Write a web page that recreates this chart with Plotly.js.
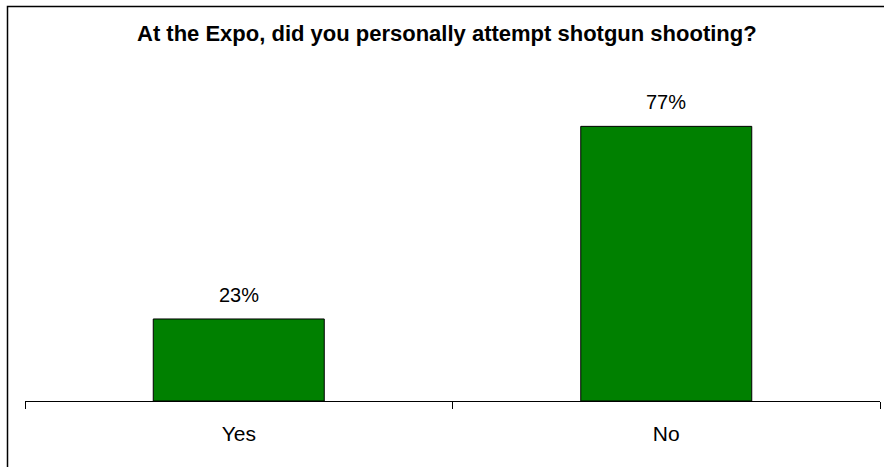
<!DOCTYPE html>
<html>
<head>
<meta charset="utf-8">
<script src="https://cdn.plot.ly/plotly-3.0.1.min.js"></script>
<style>html,body{margin:0;padding:0;background:#fff;} #chart{width:884px;height:467px;}</style>
</head>
<body>
<div id="chart"></div>
<script>
const categories = ["Yes", "No"];
const values = [0.23, 0.77];
const labels = ["23%", "77%"];
const chartTitle = "At the Expo, did you personally attempt shotgun shooting?";

const FONT = "Arial, 'Liberation Sans', sans-serif";
const W = 884, H = 467;
const m = {l: 25, r: 4, t: 80, b: 66};
const pw = W - m.l - m.r, ph = H - m.t - m.b;
const px = x => (x - m.l) / pw;
const py = y => (H - m.b - y) / ph;

const trace = {
  type: "bar",
  x: categories,
  y: values,
  marker: {color: "#008000", line: {color: "#000000", width: 1}},
  hoverinfo: "skip"
};

const annotations = categories.map((c, i) => ({
  x: c, y: values[i], xref: "x", yref: "y",
  text: labels[i], showarrow: false, yanchor: "bottom", yshift: 11,
  font: {family: FONT, size: 20, color: "#000"}
}));
annotations.push({
  xref: "paper", yref: "paper", x: px(447), y: py(34),
  text: "<b>" + chartTitle + "</b>", showarrow: false,
  xanchor: "center", yanchor: "middle",
  font: {family: FONT, size: 22, color: "#000"}
});

const layout = {
  width: W, height: H,
  margin: m,
  paper_bgcolor: "#fff", plot_bgcolor: "#fff",
  showlegend: false,
  bargap: 0.6,
  font: {family: FONT, color: "#000"},
  xaxis: {
    showline: true, linecolor: "#000", linewidth: 1,
    ticks: "outside", tickson: "boundaries", ticklen: 7, tickcolor: "#000", tickwidth: 1,
    ticklabelstandoff: 14,
    tickfont: {family: FONT, size: 21, color: "#000"},
    showgrid: false, zeroline: false, fixedrange: true
  },
  yaxis: {
    range: [0, 0.9], visible: false, showgrid: false, zeroline: false, fixedrange: true
  },
  annotations: annotations,
  shapes: [{
    type: "path", xref: "paper", yref: "paper",
    path: `M ${px(7.5)} ${py(470)} L ${px(7.5)} ${py(6.5)} L ${px(890)} ${py(6.5)}`,
    line: {color: "#000", width: 1.5}
  }]
};

Plotly.newPlot("chart", [trace], layout, {displayModeBar: false, staticPlot: true});
</script>
</body>
</html>
